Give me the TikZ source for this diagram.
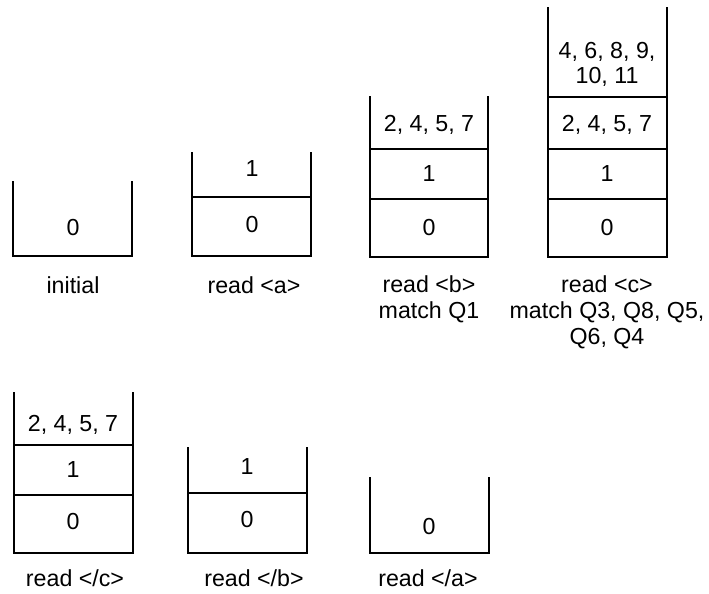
\documentclass[tikz,border=0pt]{standalone}
\usepackage{fontspec}
\setmainfont{Liberation Sans}
\usetikzlibrary{positioning}
\tikzset{
    wall/.style={line width=1.3pt, line cap=rect},
    entry/.style={font=\fontsize{16.5}{17.8}\selectfont, inner sep=0pt, align=center},
    caption/.style={font=\fontsize{16.5}{18.5}\selectfont, inner sep=0pt, align=center}
}

\begin{document}
\begin{tikzpicture}[x=0.025cm, y=-0.025cm]
    \useasboundingbox (0,0) rectangle (709,593);

    % initial
    \draw [wall] (13,182) |- (132,256) -- (132,182);
    \node (i0) [entry] at (73,228) {0};
    \node (iLab) [caption] at (73,285) {initial};

    % read <a>
    \draw [wall] (192,153) |- (311,256) -- (311,153);
    \draw [wall] (192,197) -- (311,197);
    \node (a1) [entry] at (252,169) {1};
    \node (a0) [entry] at (252,225) {0};
    \node (aLab) [caption] at (254,285) {read <a>};

    % read <b>
    \draw [wall] (370,97) |- (488,257) -- (488,97);
    \draw [wall] (370,149) -- (488,149);
    \draw [wall] (370,199) -- (488,199);
    \node (b2) [entry] at (429,125) {2, 4, 5, 7};
    \node (b1) [entry] at (429,174) {1};
    \node (b0) [entry] at (429,228) {0};
    \node (bLab) [caption] at (429,299) {read <b>\\match Q1};

    % read <c>
    \draw [wall] (548,8) |- (667,257) -- (667,8);
    \draw [wall] (548,97) -- (667,97);
    \draw [wall] (548,149) -- (667,149);
    \draw [wall] (548,199) -- (667,199);
    \node (c3) [entry] at (607,64) {4, 6, 8, 9,\\10, 11};
    \node (c2) [entry] at (607,125) {2, 4, 5, 7};
    \node (c1) [entry] at (607,174) {1};
    \node (c0) [entry] at (607,228) {0};
    \node (cLab) [caption] at (607,312) {read <c>\\match Q3, Q8, Q5,\\Q6, Q4};

    % read </c>
    \draw [wall] (14,393) |- (133,553) -- (133,393);
    \draw [wall] (14,445) -- (133,445);
    \draw [wall] (14,495) -- (133,495);
    \node (d2) [entry] at (73,425) {2, 4, 5, 7};
    \node (d1) [entry] at (73,470) {1};
    \node (d0) [entry] at (73,522) {0};
    \node (dLab) [caption] at (75,578) {read </c>};

    % read </b>
    \draw [wall] (188,448) |- (307,553) -- (307,448);
    \draw [wall] (188,493) -- (307,493);
    \node (e1) [entry] at (247,467) {1};
    \node (e0) [entry] at (247,520) {0};
    \node (eLab) [caption] at (254,578) {read </b>};

    % read </a>
    \draw [wall] (370,478) |- (489,553) -- (489,478);
    \node (f0) [entry] at (429,527) {0};
    \node (fLab) [caption] at (428,578) {read </a>};
\end{tikzpicture}
\end{document}
